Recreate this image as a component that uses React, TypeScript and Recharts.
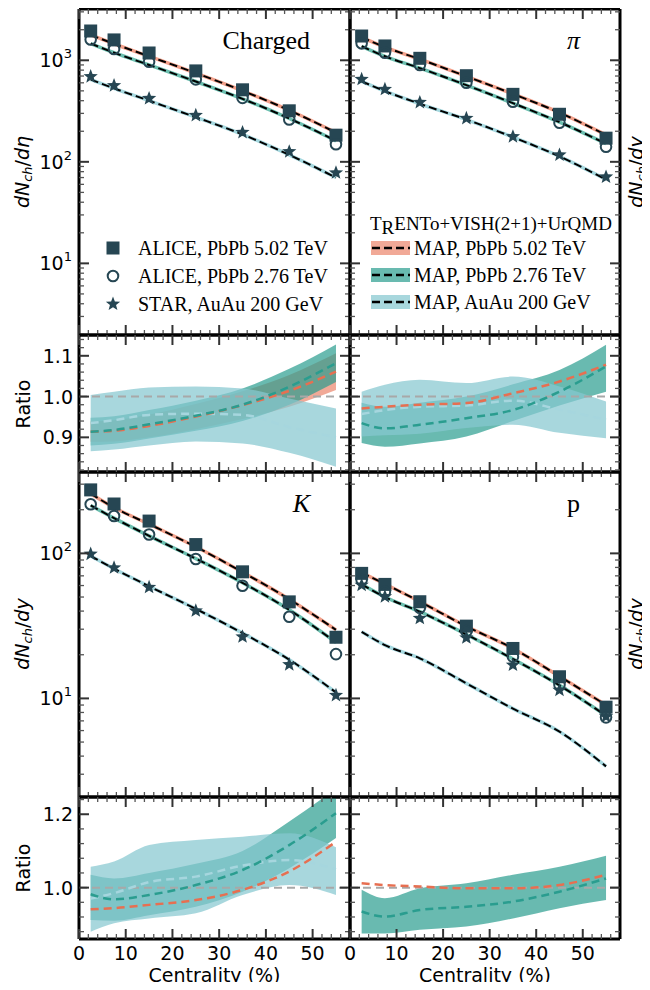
import React from 'react';
import {
  ComposedChart,
  Line,
  Area,
  Scatter,
  XAxis,
  YAxis,
  ReferenceLine,
  Legend,
} from 'recharts';

// centrality bin centres (%)
const centrality = [2.5, 7.5, 15, 25, 35, 45, 55];

// charged hadrons dNch/deta
const chAlice502 = [1943, 1587, 1180, 786, 512, 318, 183];
const chAlice276 = [1601, 1294, 966, 649, 426, 261, 149];
const chStar200 = [691, 563, 421, 287, 195, 126, 78];
const chMap502 = [1776, 1454, 1095, 748, 501, 322, 194];
const chMap276 = [1463, 1188, 900, 618, 417, 267, 161];
const chMap200 = [646, 529, 400, 275, 186, 117, 70];

// pions
const piAlice502 = [1734, 1384, 1046, 705, 462, 294, 171];
const piAlice276 = [1469, 1188, 899, 601, 391, 243, 141];
const piStar200 = [650, 518, 385, 268, 177, 117, 71];
const piMap502 = [1684, 1349, 1025, 694, 466, 305, 184];
const piMap276 = [1374, 1095, 837, 569, 378, 246, 151];
const piMap200 = [621, 497, 373, 261, 175, 113, 67];

// kaons
const kAlice502 = [274, 219, 167, 115, 74.6, 46.3, 26.4];
const kAlice276 = [218, 181, 135, 91.4, 59.8, 36.6, 20.2];
const kStar200 = [98.9, 79.6, 58.4, 40.2, 26.6, 17.1, 10.5];
const kMap502 = [258, 207, 159, 111, 74.2, 48.3, 29.7];
const kMap276 = [214, 175, 132, 92.0, 62.7, 40.8, 24.3];
const kMap200 = [95.9, 78.4, 59.3, 41.4, 28.2, 18.5, 11.0];

// protons
const pAlice502 = [72.8, 61.1, 46.4, 31.5, 22.1, 14.1, 8.7];
const pAlice276 = [65.5, 54.3, 42.2, 29.1, 19.4, 12.4, 7.4];
const pStar200 = [60.4, 50.3, 35.7, 26.2, 17.0, 11.4, 7.5];
const pMap502 = [73.7, 61.5, 46.5, 31.4, 22.1, 14.2, 9.0];
const pMap276 = [61.2, 50.0, 39.6, 27.6, 18.7, 12.3, 7.6];
const pMap200 = [28.8, 23.3, 18.9, 12.7, 8.5, 5.9, 3.4];

// ratios model / data (mean, low, high)
const chR502 = [0.914, 0.916, 0.928, 0.951, 0.979, 1.014, 1.061];
const chR502Lo = [0.889, 0.89, 0.9, 0.92, 0.945, 0.975, 1.016];
const chR502Hi = [0.939, 0.942, 0.956, 0.982, 1.013, 1.053, 1.106];
const chR276 = [0.914, 0.918, 0.932, 0.953, 0.98, 1.024, 1.082];
const chR276Lo = [0.88, 0.884, 0.897, 0.916, 0.94, 0.98, 1.036];
const chR276Hi = [0.948, 0.952, 0.967, 0.99, 1.02, 1.068, 1.128];
const chR200 = [0.935, 0.942, 0.955, 0.958, 0.955, 0.925, 0.9];
const chR200Lo = [0.866, 0.87, 0.88, 0.89, 0.885, 0.862, 0.828];
const chR200Hi = [1.004, 1.012, 1.022, 1.025, 1.02, 0.995, 0.971];

const piR502 = [0.971, 0.975, 0.98, 0.984, 1.008, 1.037, 1.078];
const piR276 = [0.935, 0.922, 0.931, 0.947, 0.967, 1.012, 1.074];
const piR276Lo = [0.886, 0.877, 0.885, 0.902, 0.94, 0.978, 1.012];
const piR276Hi = [0.985, 0.975, 0.985, 1.0, 1.03, 1.065, 1.127];
const piR200 = [0.957, 0.967, 0.975, 0.978, 0.99, 0.968, 0.943];
const piR200Lo = [0.902, 0.905, 0.909, 0.923, 0.931, 0.911, 0.898];
const piR200Hi = [1.012, 1.029, 1.041, 1.033, 1.049, 1.025, 0.988];

const kR502 = [0.941, 0.944, 0.953, 0.966, 0.994, 1.044, 1.125];
const kR276 = [0.982, 0.968, 0.98, 1.007, 1.048, 1.116, 1.203];
const kR276Lo = [0.912, 0.91, 0.925, 0.948, 0.989, 1.053, 1.135];
const kR276Hi = [1.035, 1.025, 1.04, 1.065, 1.1, 1.18, 1.27];
const kR200 = [0.97, 0.985, 1.015, 1.03, 1.06, 1.075, 1.05];
const kR200Lo = [0.88, 0.903, 0.916, 0.93, 0.98, 1.007, 0.98];
const kR200Hi = [1.057, 1.071, 1.116, 1.13, 1.139, 1.148, 1.11];

const pR502 = [1.012, 1.007, 1.003, 0.998, 0.998, 1.007, 1.035];
const pR276 = [0.935, 0.921, 0.939, 0.948, 0.962, 0.989, 1.025];
const pR276Lo = [0.875, 0.875, 0.885, 0.894, 0.916, 0.944, 0.966];
const pR276Hi = [0.994, 0.971, 0.998, 1.012, 1.035, 1.057, 1.087];

// ticks
const xTicks = [0, 2, 4, 6, 8, 10, 12, 14, 16, 18, 20, 22, 24, 26, 28, 30, 32, 34, 36, 38, 40, 42, 44, 46, 48, 50, 52, 54, 56];
const xMajor = [0, 10, 20, 30, 40, 50];
const logTicksTop = [2, 3, 4, 5, 6, 7, 8, 9, 10, 20, 30, 40, 50, 60, 70, 80, 90, 100, 200, 300, 400, 500, 600, 700, 800, 900, 1000, 2000, 3000];
const logTicksBottom = [3, 4, 5, 6, 7, 8, 9, 10, 20, 30, 40, 50, 60, 70, 80, 90, 100, 200, 300];
const logMajor = [10, 100, 1000];
const ratioTicksTop = [0.82, 0.84, 0.86, 0.88, 0.9, 0.92, 0.94, 0.96, 0.98, 1.0, 1.02, 1.04, 1.06, 1.08, 1.1, 1.12, 1.14];
const ratioMajorTop = [0.9, 1.0, 1.1];
const ratioTicksBottom = [0.88, 0.92, 0.96, 1.0, 1.04, 1.08, 1.12, 1.16, 1.2, 1.24];
const ratioMajorBottom = [1.0, 1.2];

const dataLegend = ['ALICE, PbPb 5.02 TeV', 'ALICE, PbPb 2.76 TeV', 'STAR, AuAu 200 GeV'];
const modelLegend = ['MAP, PbPb 5.02 TeV', 'MAP, PbPb 2.76 TeV', 'MAP, AuAu 200 GeV'];

const W = 650;
const H = 990;
const SANS = "'DejaVu Sans', sans-serif";
const SERIF = "'Liberation Serif', serif";
const MARK = '#264653';
const SALMON = '#e76f51';
const TEAL = '#2a9d8f';
const BLUE = '#86c7d0';
const UNDER = ['#f3a08a', '#6cc0b0', '#a6d9e0'];

type Rect = { l: number; t: number; r: number; b: number };
type Side = 'top' | 'bottom' | 'left' | 'right';
type Kind = 'num' | 'log' | 'ratio' | 'none';

const makeTick = (side: Side, majors: number[], kind: Kind) => (props: any) => {
  const { x, y, payload } = props;
  const v = Number(payload.value);
  const major = majors.some((m) => Math.abs(m - v) < 1e-9);
  const len = major ? 10 : 5;
  const x2 = side === 'left' ? x + len : side === 'right' ? x - len : x;
  const y2 = side === 'top' ? y + len : side === 'bottom' ? y - len : y;
  let label: React.ReactNode = null;
  if (major && kind !== 'none') {
    if (side === 'bottom') {
      label = (
        <text x={x} y={y + 21} textAnchor="middle" fontFamily={SANS} fontSize={19} fill="#000">
          {v}
        </text>
      );
    } else if (kind === 'log') {
      label = (
        <text x={x - 7} y={y + 7} textAnchor="end" fontFamily={SANS} fontSize={19} fill="#000">
          <tspan>10</tspan>
          <tspan dy={-9} fontSize={13}>{Math.round(Math.log10(v))}</tspan>
        </text>
      );
    } else {
      label = (
        <text x={x - 6} y={y + 7} textAnchor="end" fontFamily={SANS} fontSize={19} fill="#000">
          {v.toFixed(1)}
        </text>
      );
    }
  }
  return (
    <g>
      <line x1={x} y1={y} x2={x2} y2={y2} stroke={major ? '#333' : '#555'} strokeWidth={major ? 2 : 1.3} />
      {label}
    </g>
  );
};

const dLabel = (x: number, y: number, sym: string) => () => (
  <text x={x} y={y} transform={`rotate(-90 ${x} ${y})`} textAnchor="middle" dominantBaseline="central" fontFamily={SANS} fontSize={19} fill="#000">
    <tspan fontStyle="italic">dN</tspan>
    <tspan fontStyle="italic" fontSize={13} dy={5}>ch</tspan>
    <tspan dy={-5}>/</tspan>
    <tspan fontStyle="italic">d{sym}</tspan>
  </text>
);

const ratioLabel = (x: number, y: number) => () => (
  <text x={x} y={y} transform={`rotate(-90 ${x} ${y})`} textAnchor="middle" dominantBaseline="central" fontFamily={SANS} fontSize={19} fill="#000">
    Ratio
  </text>
);

const centLabel = (rect: Rect) => () => (
  <text x={(rect.l + rect.r) / 2} y={rect.b + 43} textAnchor="middle" fontFamily={SANS} fontSize={19} fill="#000">
    Centrality (%)
  </text>
);

const noteLabel = (rect: Rect, text: string, italic: boolean) => () => (
  <text x={rect.r - 40} y={rect.t + 40} textAnchor="end" fontFamily={SERIF} fontSize={26} fontStyle={italic ? 'italic' : 'normal'} fill="#000">
    {text}
  </text>
);

type FrameOpts = {
  xLabels: boolean;
  yKind: Kind;
  left?: () => React.ReactElement;
  right?: () => React.ReactElement;
  bottom?: () => React.ReactElement;
  note?: () => React.ReactElement;
};

// axes are 1px thick so that Recharts draws them; margins compensate
function frame(yScale: 'log' | 'linear', yDomain: [number, number], yTicks: number[], yMajor: number[], o: FrameOpts) {
  const common = {
    tickSize: 0,
    tickMargin: 0,
    tickLine: false,
    interval: 0 as const,
    allowDataOverflow: true,
    axisLine: { stroke: '#000', strokeWidth: 3 },
  };
  return [
    <XAxis key="xb" type="number" dataKey="c" domain={[0, 58]} ticks={xTicks} height={1}
      tick={makeTick('bottom', xMajor, o.xLabels ? 'num' : 'none')} label={o.bottom} {...common} />,
    <XAxis key="xt" xAxisId="t" orientation="top" type="number" dataKey="c" domain={[0, 58]} ticks={xTicks} height={1}
      tick={makeTick('top', xMajor, 'none')} label={o.note} {...common} />,
    <YAxis key="yl" type="number" scale={yScale} domain={yDomain} ticks={yTicks} width={1}
      tick={makeTick('left', yMajor, o.yKind)} label={o.left} {...common} />,
    <YAxis key="yr" yAxisId="r" orientation="right" type="number" scale={yScale} domain={yDomain} ticks={yTicks} width={1}
      tick={makeTick('right', yMajor, 'none')} label={o.right} {...common} />,
  ];
}

const chartMargin = (rect: Rect) => ({ top: rect.t - 1, left: rect.l - 1, right: W - rect.r - 1, bottom: H - rect.b - 1 });

const pts = (ys: number[]) => centrality.map((c, i) => ({ c, v: ys[i] }));
const band = (lo: number[], hi: number[]) => centrality.map((c, i) => ({ c, band: [lo[i], hi[i]] }));

const Square = (p: any) => <rect x={p.cx - 6.5} y={p.cy - 6.5} width={13} height={13} fill={MARK} />;
const Ring = (p: any) => <circle cx={p.cx} cy={p.cy} r={5.3} fill="none" stroke={MARK} strokeWidth={2} />;
const starPath = (cx: number, cy: number, ro: number, ri: number) => {
  const s: string[] = [];
  for (let k = 0; k < 10; k++) {
    const r = k % 2 === 0 ? ro : ri;
    const a = -Math.PI / 2 + (k * Math.PI) / 5;
    s.push(`${cx + r * Math.cos(a)},${cy + r * Math.sin(a)}`);
  }
  return `M${s.join('L')}Z`;
};
const Star = (p: any) => <path d={starPath(p.cx, p.cy, 7.5, 3.2)} fill={MARK} />;

const MarkerLegend = () => (
  <svg width={250} height={90}>
    {[Square, Ring, Star].map((S, i) => (
      <g key={i}>
        {S({ cx: 18, cy: 18 + i * 28 })}
        <text x={43} y={18 + i * 28} dominantBaseline="central" fontFamily={SERIF} fontSize={20} fill="#000">
          {dataLegend[i]}
        </text>
      </g>
    ))}
  </svg>
);

const ModelLegend = () => {
  const fills = [SALMON, TEAL, BLUE];
  const ops = [0.6, 0.7, 0.72];
  return (
    <svg width={258} height={112}>
      <text x={8} y={18} dominantBaseline="central" fontFamily={SERIF} fontSize={19} fill="#000">
        <tspan>T</tspan>
        <tspan dy={4}>R</tspan>
        <tspan dy={-4}>ENTo+VISH(2+1)+UrQMD</tspan>
      </text>
      {modelLegend.map((name, i) => (
        <g key={name}>
          <rect x={9} y={43 + i * 27 - 7} width={39} height={14} fill={fills[i]} fillOpacity={ops[i]} />
          <line x1={10} x2={48} y1={43 + i * 27} y2={43 + i * 27} stroke="#000" strokeWidth={2.5} strokeDasharray="8 4" />
          <text x={52} y={43 + i * 27} dominantBaseline="central" fontFamily={SERIF} fontSize={20} fill="#000">
            {name}
          </text>
        </g>
      ))}
    </svg>
  );
};

type MainProps = {
  rect: Rect;
  yDomain: [number, number];
  yTicks: number[];
  opts: FrameOpts;
  data: number[][];
  model: number[][];
  legend?: React.ReactElement;
};

function MainPanel({ rect, yDomain, yTicks, opts, data, model, legend }: MainProps) {
  const shapes = [Square, Ring, Star];
  return (
    <ComposedChart width={W} height={H} margin={chartMargin(rect)}>
      {frame('log', yDomain, yTicks, logMajor, opts)}
      {model.map((m, i) => (
        <Line key={`u${i}`} data={pts(m)} dataKey="v" type="monotone" stroke={UNDER[i]} strokeWidth={3.5}
          dot={false} activeDot={false} isAnimationActive={false} />
      ))}
      {model.map((m, i) => (
        <Line key={`m${i}`} data={pts(m)} dataKey="v" type="monotone" stroke="#000" strokeWidth={2}
          strokeDasharray="8 4" dot={false} activeDot={false} isAnimationActive={false} />
      ))}
      {data.map((d, i) => (
        <Scatter key={`d${i}`} data={pts(d)} dataKey="v" shape={shapes[i]} isAnimationActive={false} />
      ))}
      {legend}
    </ComposedChart>
  );
}

type RatioProps = {
  rect: Rect;
  yDomain: [number, number];
  yTicks: number[];
  yMajor: number[];
  opts: FrameOpts;
  bands: { lo: number[]; hi: number[]; fill: string; op: number }[];
  means: { v: number[]; stroke: string }[];
};

function RatioPanel({ rect, yDomain, yTicks, yMajor, opts, bands, means }: RatioProps) {
  return (
    <ComposedChart width={W} height={H} margin={chartMargin(rect)}>
      {frame('linear', yDomain, yTicks, yMajor, opts)}
      {bands.map((b, i) => (
        <Area key={`b${i}`} data={band(b.lo, b.hi)} dataKey="band" type="monotone" stroke="none" fill={b.fill}
          fillOpacity={b.op} dot={false} activeDot={false} isAnimationActive={false} />
      ))}
      <ReferenceLine y={1} stroke="#a8a8a8" strokeWidth={2} strokeDasharray="8 5" />
      {means.map((m, i) => (
        <Line key={`l${i}`} data={pts(m.v)} dataKey="v" type="monotone" stroke={m.stroke} strokeWidth={2.5}
          strokeDasharray="8 5" dot={false} activeDot={false} isAnimationActive={false} />
      ))}
    </ComposedChart>
  );
}

const L = { l: 79, r: 350 };
const R = { l: 350, r: 620 };
const rows = { m1: [9, 335], r1: [335, 472], m2: [472, 797], r2: [797, 939] };
const rc = (col: { l: number; r: number }, row: number[]): Rect => ({ l: col.l, r: col.r, t: row[0], b: row[1] });

const layer: React.CSSProperties = { position: 'absolute', left: 0, top: 0 };

export default function App() {
  const tl = rc(L, rows.m1);
  const tr = rc(R, rows.m1);
  const rl1 = rc(L, rows.r1);
  const rr1 = rc(R, rows.r1);
  const bl = rc(L, rows.m2);
  const br = rc(R, rows.m2);
  const rl2 = rc(L, rows.r2);
  const rr2 = rc(R, rows.r2);
  const topDom: [number, number] = [1.97, 3200];
  const botDom: [number, number] = [2.09, 364];
  const r1Dom: [number, number] = [0.815, 1.151];
  const r2Dom: [number, number] = [0.86, 1.247];
  const legendPos = { layout: 'horizontal' as const, verticalAlign: 'middle' as const, align: 'center' as const };
  return (
    <div style={{ position: 'relative', width: W, height: H, margin: -8, background: '#fff' }}>
      <div style={layer}>
        <MainPanel rect={tl} yDomain={topDom} yTicks={logTicksTop}
          opts={{ xLabels: false, yKind: 'log', left: dLabel(22, 172, 'η'), note: noteLabel(tl, 'Charged', false) }}
          data={[chAlice502, chAlice276, chStar200]} model={[chMap502, chMap276, chMap200]}
          legend={<Legend {...legendPos} content={() => <MarkerLegend />}
            wrapperStyle={{ left: 95, top: 230, width: 250, height: 90 }} />} />
      </div>
      <div style={layer}>
        <MainPanel rect={tr} yDomain={topDom} yTicks={logTicksTop}
          opts={{ xLabels: false, yKind: 'none', right: dLabel(636, 172, 'y'), note: noteLabel(tr, 'π', true) }}
          data={[piAlice502, piAlice276, piStar200]} model={[piMap502, piMap276, piMap200]}
          legend={<Legend {...legendPos} content={() => <ModelLegend />}
            wrapperStyle={{ left: 362, top: 205, width: 258, height: 112 }} />} />
      </div>
      <div style={layer}>
        <MainPanel rect={bl} yDomain={botDom} yTicks={logTicksBottom}
          opts={{ xLabels: false, yKind: 'log', left: dLabel(22, 634, 'y'), note: noteLabel(bl, 'K', true) }}
          data={[kAlice502, kAlice276, kStar200]} model={[kMap502, kMap276, kMap200]} />
      </div>
      <div style={layer}>
        <MainPanel rect={br} yDomain={botDom} yTicks={logTicksBottom}
          opts={{ xLabels: false, yKind: 'none', right: dLabel(636, 634, 'y'), note: noteLabel(br, 'p', false) }}
          data={[pAlice502, pAlice276, pStar200]} model={[pMap502, pMap276, pMap200]} />
      </div>
      <div style={layer}>
        <RatioPanel rect={rl1} yDomain={r1Dom} yTicks={ratioTicksTop} yMajor={ratioMajorTop}
          opts={{ xLabels: false, yKind: 'ratio', left: ratioLabel(23, 404) }}
          bands={[
            { lo: chR502Lo, hi: chR502Hi, fill: SALMON, op: 0.6 },
            { lo: chR276Lo, hi: chR276Hi, fill: TEAL, op: 0.7 },
            { lo: chR200Lo, hi: chR200Hi, fill: BLUE, op: 0.72 },
          ]}
          means={[{ v: chR200, stroke: '#a6d6de' }, { v: chR502, stroke: SALMON }, { v: chR276, stroke: TEAL }]} />
      </div>
      <div style={layer}>
        <RatioPanel rect={rr1} yDomain={r1Dom} yTicks={ratioTicksTop} yMajor={ratioMajorTop}
          opts={{ xLabels: false, yKind: 'none' }}
          bands={[
            { lo: piR276Lo, hi: piR276Hi, fill: TEAL, op: 0.7 },
            { lo: piR200Lo, hi: piR200Hi, fill: BLUE, op: 0.72 },
          ]}
          means={[{ v: piR200, stroke: '#a6d6de' }, { v: piR502, stroke: SALMON }, { v: piR276, stroke: TEAL }]} />
      </div>
      <div style={layer}>
        <RatioPanel rect={rl2} yDomain={r2Dom} yTicks={ratioTicksBottom} yMajor={ratioMajorBottom}
          opts={{ xLabels: true, yKind: 'ratio', left: ratioLabel(23, 868), bottom: centLabel(rl2) }}
          bands={[
            { lo: kR276Lo, hi: kR276Hi, fill: TEAL, op: 0.7 },
            { lo: kR200Lo, hi: kR200Hi, fill: BLUE, op: 0.72 },
          ]}
          means={[{ v: kR200, stroke: '#a6d6de' }, { v: kR502, stroke: SALMON }, { v: kR276, stroke: TEAL }]} />
      </div>
      <div style={layer}>
        <RatioPanel rect={rr2} yDomain={r2Dom} yTicks={ratioTicksBottom} yMajor={ratioMajorBottom}
          opts={{ xLabels: true, yKind: 'none', bottom: centLabel(rr2) }}
          bands={[{ lo: pR276Lo, hi: pR276Hi, fill: TEAL, op: 0.7 }]}
          means={[{ v: pR502, stroke: SALMON }, { v: pR276, stroke: TEAL }]} />
      </div>
    </div>
  );
}
